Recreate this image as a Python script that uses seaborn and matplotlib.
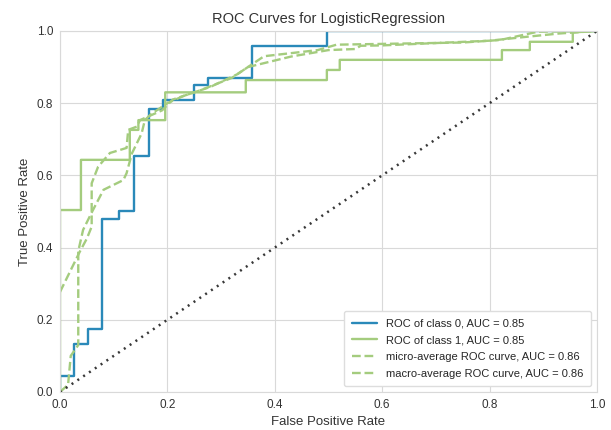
"""
ROC curves for a binary LogisticRegression model (yellowbrick-style look).
Values read off the reference picture.
"""
import matplotlib

matplotlib.use("Agg")
import matplotlib.pyplot as plt
import pandas as pd
import seaborn as sns

# class 0 (step curve)
class0_fpr = [0.0, 0.0, 0.026, 0.026, 0.053, 0.053, 0.079, 0.079, 0.11, 0.11,
              0.137, 0.137, 0.166, 0.166, 0.192, 0.192, 0.25, 0.25, 0.275, 0.275,
              0.358, 0.358, 0.497, 0.497, 1.0]
class0_tpr = [0.0, 0.044, 0.044, 0.132, 0.132, 0.175, 0.175, 0.478, 0.478, 0.502,
              0.502, 0.654, 0.654, 0.784, 0.784, 0.809, 0.809, 0.85, 0.85, 0.871,
              0.871, 0.959, 0.959, 1.0, 1.0]

# class 1 (step curve)
class1_fpr = [0.0, 0.0, 0.039, 0.039, 0.13, 0.13, 0.146, 0.146, 0.196, 0.196,
              0.346, 0.346, 0.497, 0.497, 0.521, 0.521, 0.823, 0.823, 0.875, 0.875,
              0.955, 0.955, 1.0]
class1_tpr = [0.0, 0.504, 0.504, 0.643, 0.643, 0.726, 0.726, 0.753, 0.753, 0.83,
              0.83, 0.864, 0.864, 0.892, 0.892, 0.92, 0.92, 0.947, 0.947, 0.97,
              0.97, 0.996, 1.0]

# micro-average
micro_fpr = [0.0, 0.015, 0.02, 0.034, 0.034, 0.043, 0.06, 0.081, 0.118, 0.124,
             0.134, 0.152, 0.158, 0.17, 0.2, 0.23, 0.28, 0.33, 0.36, 0.38,
             0.48, 0.515, 0.75, 0.82, 0.89, 1.0]
micro_tpr = [0.0, 0.02, 0.1, 0.13, 0.39, 0.449, 0.5, 0.56, 0.587, 0.606,
             0.661, 0.716, 0.753, 0.77, 0.8, 0.82, 0.845, 0.88, 0.91, 0.93,
             0.947, 0.962, 0.968, 0.975, 0.998, 1.0]

# macro-average
macro_fpr = [0.0, 0.037, 0.05, 0.059, 0.059, 0.071, 0.093, 0.124, 0.127, 0.143,
             0.149, 0.19, 0.21, 0.26, 0.32, 0.35, 0.43, 0.5, 0.55, 0.56,
             0.6, 0.8, 0.87, 0.93, 1.0]
macro_tpr = [0.277, 0.389, 0.425, 0.458, 0.578, 0.624, 0.662, 0.676, 0.726, 0.735,
             0.753, 0.78, 0.81, 0.835, 0.87, 0.9, 0.929, 0.947, 0.95, 0.959,
             0.96, 0.973, 0.984, 0.993, 1.0]

labels = ["ROC of class 0, AUC = 0.85",
          "ROC of class 1, AUC = 0.85",
          "micro-average ROC curve, AUC = 0.86",
          "macro-average ROC curve, AUC = 0.86"]

BLUE = "#2a89b9"
GREEN = "#a4cc7e"

sns.set_style("whitegrid", {"grid.color": "#d9d9d9", "axes.edgecolor": "#d9d9d9"})
plt.rcParams["font.family"] = ["Liberation Sans", "DejaVu Sans"]

fig = plt.figure(figsize=(6.11, 4.30), dpi=100)
ax = fig.add_axes([0.0982, 0.0884, 0.8788, 0.8396])

curves = [(class0_fpr, class0_tpr, BLUE, "-"),
          (class1_fpr, class1_tpr, GREEN, "-"),
          (micro_fpr, micro_tpr, GREEN, "--"),
          (macro_fpr, macro_tpr, GREEN, "--")]
for (fpr, tpr, color, ls), label in zip(curves, labels):
    df = pd.DataFrame({"fpr": fpr, "tpr": tpr})
    # estimator=None keeps the vertical steps (no aggregation over repeated x)
    sns.lineplot(data=df, x="fpr", y="tpr", sort=False, estimator=None,
                 errorbar=None, ax=ax, color=color, linestyle=ls,
                 linewidth=1.7, label=label)

# chance line, sparse dots
sns.lineplot(x=[0, 1], y=[0, 1], ax=ax, estimator=None, errorbar=None,
             color="#222222", linestyle=(0, (0.8, 2.0)), linewidth=1.8,
             alpha=0.9)

ax.set_xlim(0, 1)
ax.set_ylim(0, 1)
ax.set_xticks([0, 0.2, 0.4, 0.6, 0.8, 1.0])
ax.set_yticks([0, 0.2, 0.4, 0.6, 0.8, 1.0])
ax.tick_params(labelsize=8.5, colors="#333333", length=0, pad=5)
ax.set_xlabel("False Positive Rate", fontsize=9.5, color="#333333")
ax.set_ylabel("True Positive Rate", fontsize=9.5, color="#333333")
ax.set_title("ROC Curves for LogisticRegression", fontsize=10.5, color="#333333")
ax.legend(loc="lower right", fontsize=8, frameon=True, facecolor="white",
          edgecolor="#dddddd", framealpha=1.0, labelspacing=0.6,
          borderpad=0.7, handlelength=2.3)

fig.savefig("out.png", dpi=100)
plt.close(fig)
